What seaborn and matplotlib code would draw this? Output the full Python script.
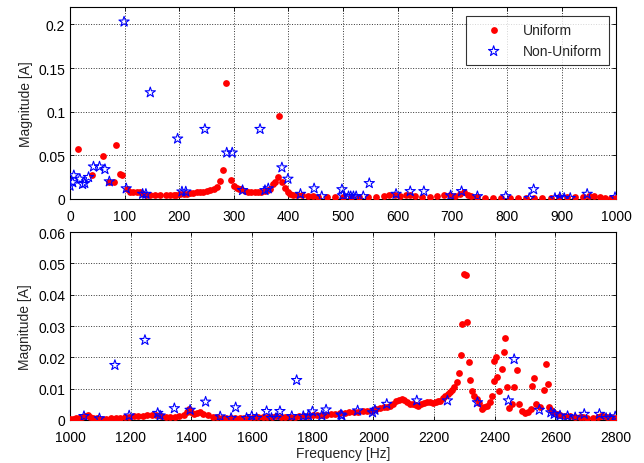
import matplotlib
matplotlib.use("Agg")
import matplotlib.pyplot as plt
import seaborn as sns
import numpy as np

# ---- data ----
# top panel (0-1000 Hz)
top_uni_f = [15, 40, 60, 72, 80, 84, 92, 95, 104, 110, 116, 122, 128, 134, 140, 147,
             155, 165, 175, 183, 190, 195, 202, 208, 214, 220, 226, 232, 238, 244, 250,
             256, 263, 269, 275, 281, 285, 295, 300, 305, 310, 314, 320, 326, 332, 338,
             344, 350, 357, 362, 366, 372, 376, 380, 383, 389, 394, 400, 403, 409, 415,
             425, 435, 445, 455, 470, 485, 500, 515, 530, 545, 560, 575, 585, 595, 605,
             615, 623, 632, 645, 660, 672, 684, 695, 705, 715, 722, 728, 735, 745, 760,
             775, 790, 805, 820, 835, 850, 865, 880, 895, 910, 925, 940, 950, 960, 970,
             980, 990, 1000]
top_uni_m = [0.057, 0.027, 0.049, 0.019, 0.020, 0.062, 0.029, 0.027, 0.011, 0.0085,
             0.008, 0.008, 0.0075, 0.006, 0.005, 0.0048, 0.0046, 0.0045, 0.0046, 0.0047,
             0.0048, 0.005, 0.0055, 0.006, 0.0062, 0.007, 0.0072, 0.0075, 0.0078, 0.0085,
             0.0092, 0.0105, 0.012, 0.014, 0.021, 0.033, 0.133, 0.022, 0.015, 0.013,
             0.012, 0.011, 0.009, 0.008, 0.0078, 0.0078, 0.008, 0.0085, 0.0095, 0.0105,
             0.011, 0.017, 0.020, 0.025, 0.095, 0.020, 0.013, 0.008, 0.006, 0.005,
             0.0045, 0.004, 0.0035, 0.003, 0.0025, 0.002, 0.002, 0.0018, 0.0018, 0.002,
             0.002, 0.0022, 0.003, 0.0045, 0.004, 0.003, 0.004, 0.005, 0.003, 0.0025,
             0.0025, 0.003, 0.005, 0.004, 0.0035, 0.006, 0.0076, 0.005, 0.003, 0.002,
             0.0015, 0.0013, 0.0013, 0.0012, 0.0012, 0.0012, 0.0012, 0.0013, 0.0015,
             0.0018, 0.002, 0.0022, 0.0028, 0.003, 0.0032, 0.0025, 0.0015, 0.0012, 0.0012]

top_non_f = [0, 5, 7, 18, 23, 27, 34, 43, 54, 64, 72, 99, 103, 133, 139, 147, 197, 205,
             212, 247, 287, 297, 316, 348, 357, 363, 388, 399, 422, 447, 461, 498, 499,
             510, 514, 519, 524, 537, 548, 597, 623, 648, 697, 717, 746, 798, 841, 849,
             888, 897, 905, 916, 947, 998]
top_non_m = [0.015, 0.019, 0.027, 0.023, 0.017, 0.018, 0.025, 0.037, 0.037, 0.034,
             0.020, 0.203, 0.012, 0.0057, 0.0057, 0.122, 0.069, 0.0084, 0.0084, 0.080,
             0.053, 0.053, 0.010, 0.080, 0.010, 0.012, 0.036, 0.023, 0.0057, 0.012,
             0.003, 0.011, 0.004, 0.003, 0.003, 0.003, 0.003, 0.003, 0.018, 0.0057,
             0.0088, 0.0088, 0.004, 0.0088, 0.003, 0.003, 0.001, 0.011, 0.001, 0.002,
             0.001, 0.001, 0.0057, 0.002]

# bottom panel (1000-2800 Hz)
bot_uni_f = [1000, 1010, 1020, 1030, 1040, 1050, 1058, 1065, 1075, 1090, 1105, 1120,
             1135, 1150, 1165, 1180, 1195, 1210, 1225, 1240, 1255, 1270, 1285, 1300,
             1315, 1330, 1345, 1360, 1375, 1385, 1392, 1400, 1410, 1420, 1430, 1440,
             1455, 1470, 1485, 1500, 1515, 1530, 1545, 1560, 1575, 1590, 1605, 1620,
             1635, 1650, 1665, 1680, 1695, 1710, 1725, 1740, 1755, 1770, 1785, 1800,
             1815, 1830, 1845, 1860, 1875, 1890, 1905, 1920, 1935, 1950, 1965, 1980,
             1995, 2010, 2022, 2035, 2045, 2055, 2065, 2075, 2085, 2093, 2100, 2110,
             2121, 2130, 2140, 2148, 2158, 2168, 2178, 2187, 2197, 2205, 2213, 2220,
             2228, 2236, 2245, 2253, 2260, 2266, 2275, 2283, 2289, 2293, 2300, 2304,
             2307, 2315, 2318, 2324, 2332, 2341, 2348, 2357, 2366, 2374, 2383, 2390,
             2396, 2399, 2403, 2409, 2415, 2423, 2429, 2435, 2440, 2448, 2456, 2465,
             2473, 2479, 2489, 2500, 2511, 2520, 2522, 2530, 2536, 2550, 2563, 2569,
             2574, 2578, 2586, 2593, 2604, 2615, 2630, 2648, 2665, 2680, 2692, 2705,
             2725, 2740, 2750, 2758, 2770, 2780, 2791, 2800]
bot_uni_m = [0.0003, 0.0004, 0.0005, 0.0007, 0.001, 0.0013, 0.0015, 0.0011, 0.0007,
             0.0005, 0.0004, 0.0004, 0.0005, 0.0005, 0.0006, 0.0008, 0.001, 0.0012,
             0.0013, 0.0014, 0.0015, 0.0015, 0.0015, 0.0013, 0.0011, 0.0009, 0.001,
             0.0012, 0.0016, 0.0025, 0.0035, 0.0025, 0.002, 0.0022, 0.0024, 0.002,
             0.0015, 0.0011, 0.0008, 0.0006, 0.0005, 0.0005, 0.0005, 0.0005, 0.0006,
             0.0007, 0.0008, 0.0009, 0.001, 0.001, 0.0011, 0.0012, 0.0011, 0.001,
             0.001, 0.0011, 0.0012, 0.0013, 0.0014, 0.0015, 0.0016, 0.0016, 0.0017,
             0.0018, 0.002, 0.0021, 0.0022, 0.0024, 0.0026, 0.0027, 0.0028, 0.0029,
             0.003, 0.0034, 0.0037, 0.004, 0.0043, 0.0046, 0.0052, 0.006, 0.0065,
             0.0067, 0.0065, 0.0058, 0.0051, 0.0052, 0.0048, 0.0046, 0.005, 0.0053,
             0.0057, 0.0056, 0.0054, 0.0058, 0.0062, 0.006, 0.007, 0.0078, 0.0082,
             0.0088, 0.0097, 0.0104, 0.0122, 0.0149, 0.0207, 0.0308, 0.0465, 0.0462,
             0.0313, 0.0186, 0.0127, 0.0093, 0.0078, 0.0067, 0.0053, 0.0035, 0.004,
             0.0046, 0.0056, 0.0078, 0.0123, 0.0189, 0.020, 0.0138, 0.0093, 0.0162,
             0.0216, 0.0261, 0.0106, 0.0037, 0.0051, 0.0106, 0.0159, 0.0051, 0.003,
             0.0022, 0.0027, 0.0035, 0.011, 0.0133, 0.0051, 0.004, 0.0096, 0.018,
             0.0115, 0.0042, 0.0032, 0.0027, 0.002, 0.0016, 0.0014, 0.0012, 0.001,
             0.0009, 0.0008, 0.0007, 0.0006, 0.001, 0.0013, 0.0014, 0.001, 0.0008,
             0.0006, 0.0005]

bot_non_f = [1046, 1097, 1148, 1195, 1247, 1289, 1297, 1344, 1396, 1447, 1495, 1531,
             1546, 1582, 1599, 1615, 1648, 1664, 1679, 1692, 1731, 1747, 1769, 1786,
             1799, 1830, 1844, 1893, 1896, 1948, 1997, 2005, 2044, 2143, 2244, 2343,
             2445, 2464, 2547, 2585, 2596, 2615, 2640, 2665, 2695, 2745, 2767, 2780, 2797]
bot_non_m = [0.0012, 0.0005, 0.0175, 0.0014, 0.0255, 0.0022, 0.0014, 0.0037, 0.0032,
             0.0058, 0.0011, 0.0006, 0.004, 0.0006, 0.0012, 0.0006, 0.0028, 0.0006,
             0.0006, 0.0028, 0.0012, 0.0127, 0.0012, 0.0014, 0.0027, 0.0014, 0.0033,
             0.0017, 0.0014, 0.003, 0.0024, 0.0032, 0.0051, 0.0062, 0.0062, 0.0056,
             0.0062, 0.0194, 0.0032, 0.0024, 0.0019, 0.0014, 0.0012, 0.0008, 0.0019,
             0.0019, 0.0006, 0.0006, 0.0011]

sns.set_style("ticks")
plt.rcParams['font.family'] = ['Liberation Sans', 'DejaVu Sans']
plt.rcParams['font.size'] = 10

fig = plt.figure(figsize=(6.44, 4.64), dpi=100)
ax1 = fig.add_axes([0.1087, 0.569, 0.848, 0.414])
ax2 = fig.add_axes([0.1087, 0.0927, 0.848, 0.405])


def draw(ax, uf, um, nf, nm, legend):
    sns.scatterplot(x=uf, y=um, ax=ax, color='red', marker='o', s=24,
                    edgecolor='red', linewidth=0, label='Uniform' if legend else None,
                    zorder=3)
    sns.scatterplot(x=nf, y=nm, ax=ax, marker='*', s=60, facecolor='none',
                    edgecolor='blue', linewidth=0.8,
                    label='Non-Uniform' if legend else None, zorder=4)
    ax.grid(True, color='#333333', linestyle=':', linewidth=0.7)
    ax.set_axisbelow(True)
    ax.tick_params(direction='in', top=True, right=True, length=3, width=0.6,
                   labelsize=10, colors='black')
    ax.tick_params(axis='x', pad=7)
    for sp in ax.spines.values():
        sp.set_linewidth(0.8)
        sp.set_color('black')
    ax.set_ylabel('Magnitude [A]', fontsize=10)


draw(ax1, top_uni_f, top_uni_m, top_non_f, top_non_m, True)
ax1.set_xlim(0, 1000)
ax1.set_ylim(0, 0.22)
ax1.set_xticks(np.arange(0, 1001, 100))
ax1.set_yticks([0, 0.05, 0.1, 0.15, 0.2])
ax1.set_yticklabels(['0', '0.05', '0.1', '0.15', '0.2'])
leg = ax1.legend(loc='upper right', frameon=True, fancybox=False, fontsize=10,
                 borderpad=0.5, handlelength=3.0, handletextpad=0.6,
                 borderaxespad=0, bbox_to_anchor=(0.987, 0.953))
leg.get_frame().set_edgecolor('black')
leg.get_frame().set_linewidth(0.8)

draw(ax2, bot_uni_f, bot_uni_m, bot_non_f, bot_non_m, False)
ax2.set_xlim(1000, 2800)
ax2.set_ylim(0, 0.06)
ax2.set_xticks(np.arange(1000, 2801, 200))
ax2.set_yticks([0, 0.01, 0.02, 0.03, 0.04, 0.05, 0.06])
ax2.set_yticklabels(['0', '0.01', '0.02', '0.03', '0.04', '0.05', '0.06'])
ax2.set_xlabel('Frequency [Hz]', fontsize=10, labelpad=2)

fig.savefig('out.png', dpi=100)
